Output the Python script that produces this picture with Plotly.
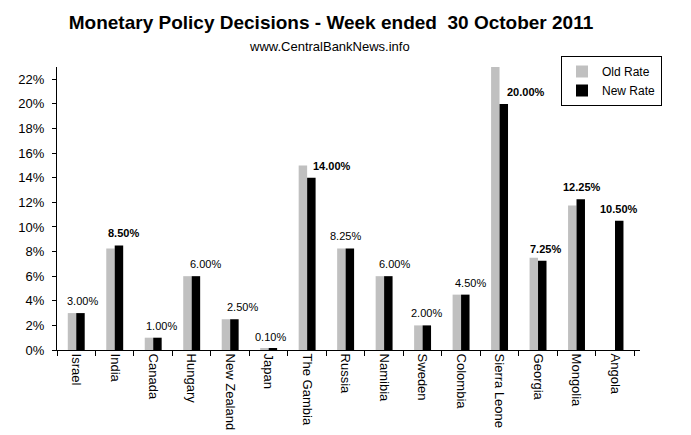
import plotly.graph_objects as go

countries = ["Israel", "India", "Canada", "Hungary", "New Zealand", "Japan",
             "The Gambia", "Russia", "Namibia", "Sweden", "Colombia",
             "Sierra Leone", "Georgia", "Mongolia", "Angola"]
old_rate = [3.00, 8.25, 1.00, 6.00, 2.50, 0.10, 15.00, 8.25, 6.00, 2.00,
            4.50, 25.00, 7.50, 11.75, None]
new_rate = [3.00, 8.50, 1.00, 6.00, 2.50, 0.10, 14.00, 8.25, 6.00, 2.00,
            4.50, 20.00, 7.25, 12.25, 10.50]
changed = [False, True, False, False, False, False, True, False, False,
           False, False, True, True, True, True]
y_ticks = [0, 2, 4, 6, 8, 10, 12, 14, 16, 18, 20, 22]

# label placement styling (pixel shifts)
label_xshift = [6, 9, 8, 14, 12, 2, 25, 0, 10, 4, 9, 26, 7, 5, 4]

FONT = "Liberation Sans, Arial, sans-serif"

fig = go.Figure()
fig.add_trace(go.Bar(x=countries, y=old_rate, name="Old Rate",
                     marker=dict(color="#C0C0C0", line=dict(color="#000000", width=0))))
fig.add_trace(go.Bar(x=countries, y=new_rate, name="New Rate",
                     marker=dict(color="#000000", line=dict(color="#000000", width=0))))

for c, v, o, ch, dx in zip(countries, new_rate, old_rate, changed, label_xshift):
    txt = f"{v:.2f}%"
    fig.add_annotation(x=c, y=v, xref="x", yref="y", text=f"<b>{txt}</b>" if ch else txt,
                       showarrow=False, xshift=dx, yshift=12, yanchor="middle",
                       font=dict(family=FONT, size=11, color="#000000"))

fig.add_annotation(text="www.CentralBankNews.info", xref="paper", yref="paper",
                   x=(329 - 57) / 583, y=(350 - 47) / 283, showarrow=False,
                   yanchor="middle", xanchor="center",
                   font=dict(family=FONT, size=13, color="#000000"))

fig.update_layout(
    width=691, height=435,
    margin=dict(l=57, r=51, t=67, b=85),
    paper_bgcolor="white", plot_bgcolor="white",
    title=dict(text="<b>Monetary Policy Decisions - Week ended  30 October 2011</b>",
               x=331 / 691, xanchor="center", xref="container",
               y=1 - 22 / 435, yanchor="middle", yref="container",
               font=dict(family=FONT, size=19, color="#000000")),
    barmode="group", bargap=0.56, bargroupgap=0,
    showlegend=True,
    legend=dict(x=(561 - 57) / 583, y=(350 - 56) / 283, xanchor="left", yanchor="top",
                bordercolor="#000000", borderwidth=1, bgcolor="white",
                font=dict(family=FONT, size=12, color="#000000"),
                traceorder="normal"),
    font=dict(family=FONT, size=12, color="#000000"),
)
fig.update_xaxes(showline=True, linecolor="#000000", linewidth=1, automargin=False,
                 ticks="outside", tickson="boundaries", ticklen=5, tickcolor="#000000",
                 tickangle=90, tickfont=dict(family=FONT, size=13, color="#000000"),
                 showgrid=False)
fig.update_yaxes(range=[0, 23], showline=True, linecolor="#000000", linewidth=1,
                 automargin=False, ticklabelstandoff=5,
                 ticks="outside", ticklen=4, tickcolor="#000000",
                 tickvals=y_ticks, ticktext=[f"{t}%" for t in y_ticks],
                 tickfont=dict(family=FONT, size=13, color="#000000"),
                 showgrid=False, zeroline=False)

fig.write_html("out.html", config={"displayModeBar": False},
               post_script="document.body.style.margin='0';document.body.style.padding='0';")
